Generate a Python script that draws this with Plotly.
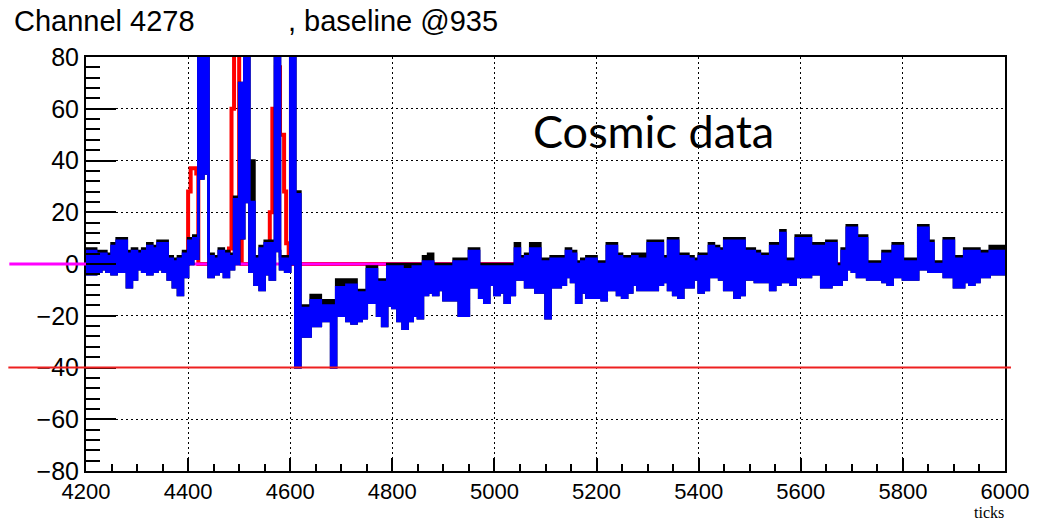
import numpy as np
import plotly.graph_objects as go

# ---- waveform data (10-tick columns starting at 4200) ----
bin_start = 4200
bin_width = 10

# upper / lower envelope of the filtered waveform in each column (ADC counts)
blue_hi = [
    5, 5, 4, 4, 3, 7, 9, 9, 4, 5,
    4, 5, 7, 6, 8, 8, 2, 1, 2, 4,
    9, 10, 120, 120, 3, 2, 5, 4, 3, 25,
    70, 120, 24, 2, 6, 8, 8, 120, 2, 2,
    120, 27, -17, -17, -14, -14, -16, -16, -16, -9,
    -9, -8, -8, -11, -11, -2, -2, -7, -7, -1,
    -1, -1, -2, -2, -1, -1, 1, 1, -1, -1,
    -1, -1, 1, 1, 1, 5, 5, -1, -1, -1,
    -1, -1, -1, -1, 6, 2, 3, 6, 6, 1,
    1, 2, 2, 2, 5, 4, 0, 1, 2, 2,
    0, 0, 7, 7, 3, 2, 2, 3, 2, 2,
    8, 8, 8, 2, 9, 9, 3, 3, 2, 1,
    3, 3, 7, 6, 5, 9, 9, 9, 9, 5,
    5, 4, 3, 3, 7, 7, 12, 1, 1, 10,
    10, 10, 7, 7, 7, 8, 8, -1, 5, 14,
    14, 10, 10, 0, 0, 0, 4, 4, 7, 7,
    1, 1, 1, 14, 14, 8, 0, 0, 9, 9,
    2, 2, 5, 5, 5, 4, 4, 5, 5, 5,
]
blue_lo = [
    -4, -4, -3, -2, -3, -4, -3, -3, -9, -6,
    -2, -3, -4, -3, -2, -3, -6, -9, -12, -5,
    0, 2, 33, 35, -5, -4, -3, -5, -2, 0,
    10, 24, -3, -8, -10, -4, -6, 5, -2, -3,
    0, -40, -28, -28, -24, -24, -22, -22, -40, -20,
    -20, -22, -23, -22, -21, -15, -15, -20, -24, -16,
    -17, -22, -25, -22, -20, -21, -12, -11, -12, -10,
    -14, -14, -14, -20, -20, -9, -9, -13, -15, -8,
    -12, -11, -15, -12, -6, -6, -9, -9, -11, -11,
    -21, -9, -9, -8, -5, -7, -15, -11, -13, -13,
    -13, -14, -10, -10, -12, -13, -11, -8, -10, -10,
    -10, -10, -8, -7, -10, -12, -13, -9, -9, -6,
    -11, -10, -5, -5, -6, -10, -10, -13, -12, -6,
    -6, -7, -7, -7, -10, -8, -7, -7, -8, -5,
    -5, -5, -4, -4, -9, -9, -8, -8, -6, -2,
    -3, -5, -5, -6, -6, -6, -7, -8, -5, -5,
    -6, -6, -6, -2, -2, -3, -3, -3, -5, -5,
    -9, -9, -7, -8, -7, -5, -5, -4, -4, -4,
]
# upper envelope of the raw waveform in each column
black_hi = [
    6, 6, 5, 5, 4, 8, 10, 10, 5, 6,
    5, 6, 8, 7, 9, 9, 3, 2, 3, 5,
    10, 11, 120, 120, 4, 3, 6, 5, 4, 26,
    70, 120, 40, 3, 7, 9, 9, 120, 3, 3,
    120, 28, -16, -16, -12, -12, -14, -14, -14, -6,
    -6, -6, -6, -10, -10, -1, -1, -6, -6, 0,
    0, 0, 0, 0, 0, 0, 3, 4, 0, 0,
    0, 0, 2, 2, 2, 6, 6, 0, 0, 0,
    0, 0, 0, 0, 8, 3, 4, 8, 8, 2,
    2, 3, 3, 3, 6, 5, 1, 2, 3, 3,
    1, 1, 8, 8, 4, 3, 3, 4, 4, 4,
    9, 9, 9, 3, 10, 10, 4, 4, 3, 2,
    4, 4, 8, 7, 6, 10, 10, 10, 10, 6,
    6, 5, 4, 4, 8, 8, 13, 2, 2, 11,
    11, 11, 8, 8, 8, 9, 9, 0, 6, 15,
    15, 11, 11, 1, 1, 1, 5, 5, 8, 8,
    2, 2, 2, 15, 15, 9, 1, 1, 10, 10,
    3, 3, 6, 6, 6, 5, 5, 7, 7, 7,
]

# region-of-interest signal (step starts in ticks, value from that tick on)
red_ticks = [4200, 4400, 4405, 4416, 4420, 4480, 4485, 4490, 4500, 4505,
             4550, 4560, 4565, 4572, 4580, 4588, 4592, 4597, 6000]
red_vals = [0, 28, 37, 35, 0, 6, 60, 120, 20, 0,
            5, 20, 60, 76, 50, 28, 8, 0, 0]

baseline = 0
threshold = -40

x_ticks_range = [4200, 6000]
y_range = [-80, 80]

# ---- build step coordinates ----
n = len(blue_hi)
edges = bin_start + bin_width * np.arange(n + 1)


def steps(vals):
    return list(vals) + [vals[-1]]


fig = go.Figure()

# ROI signal
fig.add_trace(go.Scatter(x=red_ticks, y=red_vals, mode="lines", line_shape="hv",
                         line=dict(color="#ff0000", width=4), hoverinfo="skip"))
# baseline
fig.add_trace(go.Scatter(x=x_ticks_range, y=[baseline, baseline], mode="lines",
                         line=dict(color="#ff00ff", width=3), hoverinfo="skip"))
# raw waveform band
fig.add_trace(go.Scatter(x=edges, y=steps(blue_lo), mode="lines", line_shape="hv",
                         line=dict(color="black", width=2.5), hoverinfo="skip"))
fig.add_trace(go.Scatter(x=edges, y=steps(black_hi), mode="lines", line_shape="hv",
                         line=dict(color="black", width=2.5), fill="tonexty",
                         fillcolor="black", hoverinfo="skip"))
# filtered waveform band
fig.add_trace(go.Scatter(x=edges, y=steps(blue_lo), mode="lines", line_shape="hv",
                         line=dict(color="#0000ff", width=2.5), hoverinfo="skip"))
fig.add_trace(go.Scatter(x=edges, y=steps(blue_hi), mode="lines", line_shape="hv",
                         line=dict(color="#0000ff", width=2.5), fill="tonexty",
                         fillcolor="#0000ff", hoverinfo="skip"))

# baseline continues to the left of the frame; threshold line spans the canvas
fig.add_shape(type="line", xref="paper", yref="y", x0=-0.0834, x1=0,
              y0=baseline, y1=baseline, line=dict(color="#ff00ff", width=3))
fig.add_shape(type="line", xref="paper", yref="y", x0=-0.0845, x1=1.0065,
              y0=threshold, y1=threshold, line=dict(color="#ee2020", width=2),
              layer="above")

y_font = dict(family="Liberation Sans, Arial, sans-serif", size=25, color="black")
x_font = dict(family="Liberation Sans, Arial, sans-serif", size=22, color="black")

fig.update_xaxes(
    range=x_ticks_range, tick0=4200, dtick=200, ticks="inside", ticklen=13,
    tickwidth=1.5, tickcolor="black", tickfont=x_font,
    minor=dict(dtick=50, ticks="inside", ticklen=7, tickwidth=1.5, tickcolor="black",
               showgrid=False),
    showgrid=True, gridcolor="black", gridwidth=1, griddash="2px,3px",
    showline=True, linecolor="black", linewidth=2, mirror=True, zeroline=False,
)
fig.update_yaxes(
    range=y_range, tick0=0, dtick=20, ticks="inside", ticklen=30,
    tickwidth=1.5, tickcolor="black", tickfont=y_font,
    minor=dict(dtick=4, ticks="inside", ticklen=14, tickwidth=1.5, tickcolor="black",
               showgrid=False),
    showgrid=True, gridcolor="black", gridwidth=1, griddash="2px,3px",
    showline=True, linecolor="black", linewidth=2, mirror=True, zeroline=False,
)

title_font = dict(family="Liberation Sans, Arial, sans-serif", size=29, color="black")
fig.add_annotation(text="Channel 4278", xref="paper", yref="paper", x=-0.0802,
                   y=1.086, xanchor="left", yanchor="middle", showarrow=False,
                   font=title_font)
fig.add_annotation(text=", baseline @935", xref="paper", yref="paper", x=0.2177,
                   y=1.086, xanchor="left", yanchor="middle", showarrow=False,
                   font=title_font)
fig.add_annotation(text="Cosmic data", xref="paper", yref="paper", x=0.4843,
                   y=0.822, xanchor="left", yanchor="middle", showarrow=False,
                   font=dict(family="Lato, sans-serif", size=45, color="black"))
fig.add_annotation(text="ticks", xref="paper", yref="paper", x=1.0,
                   y=-0.122, xanchor="right", yanchor="bottom", showarrow=False,
                   borderpad=0,
                   font=dict(family="Liberation Serif, Times New Roman, serif",
                             size=16, color="black"))

fig.update_layout(
    width=1041, height=523,
    margin=dict(l=86, r=32, t=57, b=52),
    paper_bgcolor="white", plot_bgcolor="white",
    showlegend=False,
)

fig.write_html("out.html")
